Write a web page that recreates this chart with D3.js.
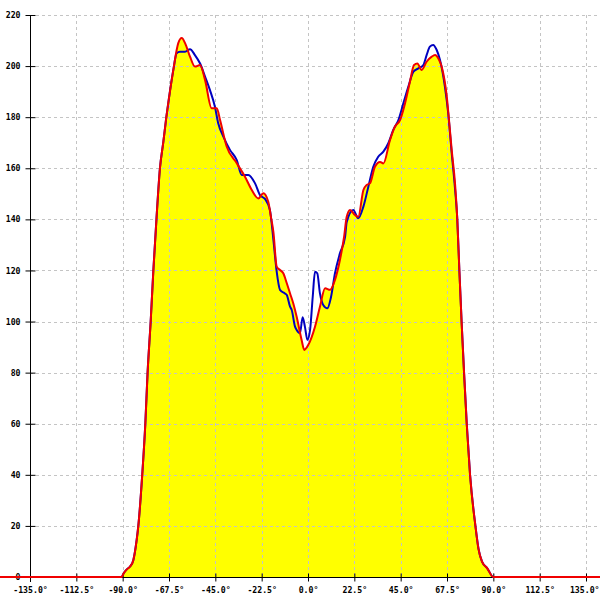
<!DOCTYPE html>
<html>
<head>
<meta charset="utf-8">
<script src="https://cdn.jsdelivr.net/npm/d3@7/dist/d3.min.js"></script>
<style>
html,body{margin:0;padding:0;background:#fff;}
svg{display:block;}
</style>
</head>
<body>
<svg id="chart" width="600" height="600"></svg>
<script>
// Angles (degrees) and values
const redAngles = [-150,-90.5,-89.5,-88,-86.4,-84.8,-83.2,-82.4,-80.5,-79,-77.9,-76.4,-75.1,-73.6,-71.9,-70.3,-68.8,-67.6,-65.4,-63,-61.3,-59.7,-57.3,-54.9,-52.4,-50,-46.8,-44.3,-42.7,-39.5,-34.6,-30.6,-27.3,-24.1,-21.7,-19.3,-18,-16.8,-15.2,-13.6,-12,-10.3,-8.7,-7.1,-5.5,-3.1,-1.8,0.1,3.4,5.8,8.3,10.7,13.1,15.5,17.5,18.8,20.4,22.8,24.4,26.9,28.5,30.1,32.5,35,36.6,39.8,42.2,44.7,47.1,49.5,51.5,53.1,55.2,57.6,60.1,61.7,63.3,64.9,67.4,68.9,69.8,71.4,72.5,73.5,74.6,75.8,77.1,78.7,81.3,82.8,84.5,87,90,150];
const redValues = [0,0,1.5,3,4.1,6.7,14.5,20,40,60,80,100,120,140,160,170,180,187,198.5,209,211,209,203.7,199.8,200.4,194.6,183.5,183.5,178.9,168.5,162,156.7,151.5,148.2,150.2,146.9,141,135,121.5,120.2,118.9,115,111,107,101.9,92.8,88.9,90.8,98,105.8,113,112.4,116.3,124.1,133,141,143.7,141.7,141,151.5,153.5,154.1,160.6,162.5,161.9,171,176.3,178.9,185.4,193.9,200.4,201,198.5,201.7,203.7,204.3,203,199.8,188,175,167,154,140,120.2,99.7,79.7,59.8,40,20,11,6,3.5,0,0];

const blueAngles = [-150,-90.5,-89.5,-88,-86.4,-84.8,-83.2,-82.4,-80.5,-79,-77.9,-76.4,-75.1,-73.6,-71.9,-70.3,-68.8,-67.6,-65.4,-63.8,-62.2,-59.7,-57.3,-54.9,-52.4,-50,-47.6,-45.2,-43.6,-41.1,-37.9,-34.6,-32.2,-29,-25.7,-23.3,-20.9,-18.5,-16.8,-15.2,-13.6,-11.2,-10.3,-8.7,-7.9,-6.3,-5.5,-3.9,-2.6,-1.5,-0.3,1,2.3,3.4,4.5,5.8,7.4,9.4,11.2,13.1,15.5,18,18.8,22,24.4,26.9,29.3,31.7,34.1,36.6,39,41.4,43.9,46.3,48.7,51.2,53.6,56,57.6,59.2,60.8,62.5,64.1,66.5,68.1,69.8,71.4,72.5,73.5,74.6,75.8,77.1,78.7,81.3,82.8,84.5,87,90,150];
const blueValues = [0,0,1.5,3,4.1,6.7,14.5,20,40,60,80,100,120,140,160,170,180,187,198.5,205,205.6,205.6,206.6,204.3,201,195.9,190.6,184.1,177.6,172.4,167.2,163.2,157.4,157.4,154.1,149.5,148,143.7,132,119.5,112.4,111,110.4,105.8,104.5,98,96.7,95.4,101.7,98,92.8,96.7,109.7,119.5,118.9,111,106.5,105.2,109.7,118.9,126.7,133.2,139,143.7,140.4,145,152.8,160.6,164.5,166.5,169.8,175,178.9,185.4,191.9,197.8,199.1,200.4,204.3,207.6,208.3,206.3,202.4,191.9,181.5,165.8,152,140,120,99.7,79.7,59.8,40,20,11,6,3.5,0,0];

const xTickValues = [-135,-112.5,-90,-67.5,-45,-22.5,0,22.5,45,67.5,90,112.5,135];
const xTickLabels = ["-135.0°","-112.5°","-90.0°","-67.5°","-45.0°","-22.5°","0.0°","22.5°","45.0°","67.5°","90.0°","112.5°","135.0°"];
const yTickValues = [0,20,40,60,80,100,120,140,160,180,200,220];
const yTickLabels = ["0","20","40","60","80","100","120","140","160","180","200","220"];

const red = redAngles.map((a,i)=>({a, v: redValues[i]}));
const blue = blueAngles.map((a,i)=>({a, v: blueValues[i]}));

const svg = d3.select("#chart");
const x = d3.scaleLinear().domain([-135,135]).range([30,586]);
const y = d3.scaleLinear().domain([0,220]).range([577,15]);
const font = "'DejaVu Sans Mono', monospace";

// fill under red series
const area = d3.area().x(d=>x(d.a)).y0(y(0)).y1(d=>y(d.v)).curve(d3.curveMonotoneX);
svg.append("path").datum(red).attr("d", area).attr("fill", "#ffff00");

// grid
const grid = svg.append("g").attr("stroke", "#c4c4c4").attr("stroke-width", 1).attr("stroke-dasharray", "3,3");
grid.selectAll("line.v").data(xTickValues.slice(1)).join("line")
  .attr("x1", d=>Math.round(x(d))+0.5).attr("x2", d=>Math.round(x(d))+0.5)
  .attr("y1", y(220)).attr("y2", y(0));
grid.selectAll("line.h").data(yTickValues.slice(1)).join("line")
  .attr("x1", x(-135)).attr("x2", 600)
  .attr("y1", d=>Math.round(y(d))+0.5).attr("y2", d=>Math.round(y(d))+0.5);

// x axis
const xAxis = d3.axisBottom(x).tickValues(xTickValues).tickFormat((d,i)=>xTickLabels[i]).tickSize(4).tickPadding(6);
const gx = svg.append("g").attr("transform", `translate(0,${Math.round(y(0))+0.5})`).call(xAxis);
gx.select(".domain").remove();
gx.selectAll(".tick line").attr("y1", -4).attr("y2", 4).attr("stroke", "#000");
gx.selectAll(".tick text").attr("font-family", font).attr("font-size", 8.2).attr("font-weight", "bold").attr("fill", "#000").attr("dy", "0.65em");
gx.selectAll(".tick text").filter((d,i)=>i===xTickValues.length-1).attr("text-anchor", "end").attr("x", 13);
svg.append("line").attr("x1", x(-135)).attr("x2", 600).attr("y1", Math.round(y(0))+0.5).attr("y2", Math.round(y(0))+0.5).attr("stroke", "#000");

// y axis
const yAxis = d3.axisLeft(y).tickValues(yTickValues).tickFormat((d,i)=>yTickLabels[i]).tickSize(4).tickPadding(6);
const gy = svg.append("g").attr("transform", `translate(${Math.round(x(-135))+0.5},0)`).call(yAxis);
gy.select(".domain").remove();
gy.selectAll(".tick line").attr("x1", -5).attr("x2", 5).attr("stroke", "#000");
gy.selectAll(".tick text").attr("font-family", font).attr("font-size", 8.2).attr("font-weight", "bold").attr("fill", "#000");
svg.append("line").attr("x1", Math.round(x(-135))+0.5).attr("x2", Math.round(x(-135))+0.5).attr("y1", y(220)).attr("y2", y(0)+5).attr("stroke", "#000");

// lines
const line = d3.line().x(d=>x(d.a)).y(d=>y(d.v)).curve(d3.curveMonotoneX);
svg.append("path").datum(blue).attr("d", line).attr("fill", "none").attr("stroke", "#0000c0").attr("stroke-width", 2);
svg.append("path").datum(red).attr("d", line).attr("fill", "none").attr("stroke", "#f00000").attr("stroke-width", 2);
</script>
</body>
</html>
